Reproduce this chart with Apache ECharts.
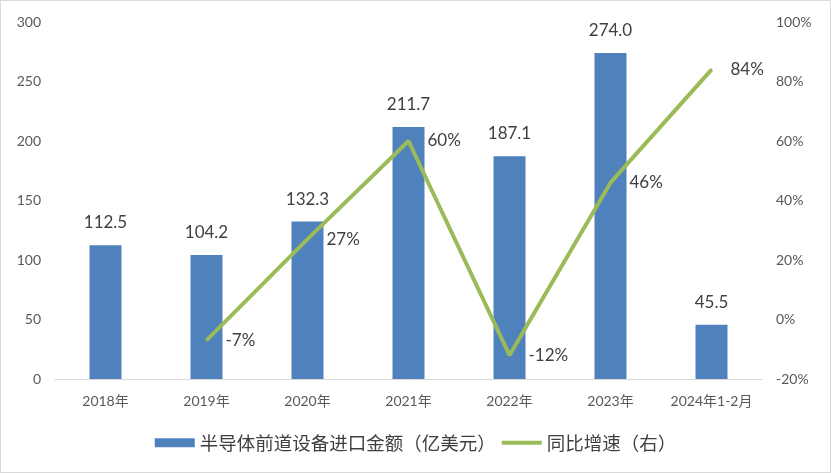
<!DOCTYPE html>
<html><head><meta charset="utf-8">
<script src="https://cdn.jsdelivr.net/npm/echarts@6/dist/echarts.min.js"></script>
<style>html,body{margin:0;padding:0;background:#fff}#c{width:831px;height:473px;box-sizing:border-box;border:1px solid #d9d9d9}</style>
</head><body><div id="c"></div>
<script>
const categories = ['2018年','2019年','2020年','2021年','2022年','2023年','2024年1-2月'];
const importValues = [112.5,104.2,132.3,211.7,187.1,274.0,45.5];
const growthValues = [null,-7,27,60,-12,46,84];
const leftTicks = [0,50,100,150,200,250,300];
const rightTicks = [-20,0,20,40,60,80,100];
const barName = '半导体前道设备进口金额（亿美元）';
const lineName = '同比增速（右）';
const font = 'Lato, "Noto Sans CJK SC", sans-serif';
const chart = echarts.init(document.getElementById('c'));
chart.setOption({
  animation:false,
  textStyle:{fontFamily:font},
  grid:{left:54,right:68,top:21,bottom:93},
  legend:{bottom:15,left:'center',itemGap:6,itemWidth:40,itemHeight:9,
    textStyle:{fontSize:18.5,color:'#404040',fontFamily:'"Noto Sans CJK SC", sans-serif'},
    data:[{name:barName,icon:'rect'},{name:lineName,icon:'path://M0,0 L40,0 L40,4 L0,4 Z',itemStyle:{color:'#9bbb59',opacity:1}}]},
  xAxis:{type:'category',data:categories,
    axisLine:{lineStyle:{color:'#d9d9d9'}},axisTick:{show:false},
    axisLabel:{color:'#595959',fontSize:14,margin:15,interval:0,fontFamily:font}},
  yAxis:[
    {type:'value',min:leftTicks[0],max:leftTicks[leftTicks.length-1],interval:50,
     splitLine:{show:false},axisLine:{show:false},axisTick:{show:false},
     axisLabel:{color:'#595959',fontSize:14,margin:14}},
    {type:'value',min:rightTicks[0],max:rightTicks[rightTicks.length-1],interval:20,
     splitLine:{show:false},axisLine:{show:false},axisTick:{show:false},
     axisLabel:{color:'#595959',fontSize:14,margin:14,formatter:'{value}%'}}
  ],
  series:[
    {name:barName,type:'bar',data:importValues,barWidth:32,
     itemStyle:{color:'#4f81bd'},
     label:{show:true,position:'top',distance:14,fontSize:17,color:'#404040',
       formatter:p=>p.value.toFixed(1)}},
    {name:lineName,type:'line',yAxisIndex:1,data:growthValues,
     symbol:'circle',symbolSize:2,showSymbol:true,lineStyle:{color:'#9bbb59',width:4},itemStyle:{color:'#9bbb59'},
     label:{show:true,position:'right',distance:18,fontSize:17,color:'#404040',formatter:'{c}%'}}
  ]
});
</script></body></html>
